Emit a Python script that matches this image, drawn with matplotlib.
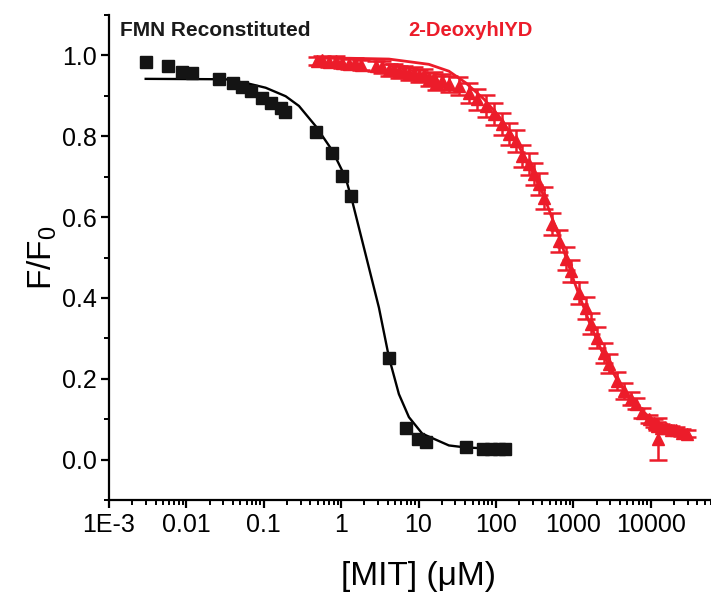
import numpy as np
import matplotlib
matplotlib.use("Agg")
import matplotlib.pyplot as plt
from matplotlib.ticker import LogLocator, NullFormatter, FixedLocator, MultipleLocator

plt.rcParams['font.family'] = ['Liberation Sans', 'DejaVu Sans']
plt.rcParams['mathtext.fontset'] = 'custom'
plt.rcParams['mathtext.rm'] = 'Liberation Sans'
plt.rcParams['mathtext.it'] = 'Liberation Sans'

# ---- FMN Reconstituted (black squares) ----
fmn_x = [0.00298, 0.00578, 0.00885, 0.0119, 0.0264, 0.0403, 0.0527, 0.0677, 0.094,
         0.123, 0.165, 0.188, 0.469, 0.76, 1.03, 1.33, 4.15, 6.88, 9.91, 12.6,
         40.6, 68, 86, 109, 131]
fmn_y = [0.984, 0.974, 0.960, 0.957, 0.942, 0.932, 0.922, 0.912, 0.895,
         0.883, 0.870, 0.861, 0.810, 0.759, 0.702, 0.652, 0.251, 0.078, 0.051, 0.044,
         0.030, 0.026, 0.026, 0.026, 0.026]
# fitted curve
fmn_fit_x = [0.00298, 0.0322, 0.0644, 0.106, 0.192, 0.285, 0.469, 0.767, 1.14, 1.39,
             2.07, 3.08, 4.15, 5.58, 7.52, 11.2, 24.7, 40.6, 139]
fmn_fit_y = [0.942, 0.941, 0.930, 0.920, 0.899, 0.875, 0.825, 0.765, 0.698, 0.640,
             0.508, 0.376, 0.253, 0.162, 0.105, 0.064, 0.035, 0.030, 0.025]

# ---- 2-DeoxyhIYD (red triangles with error bars) ----
deoxy_x = [0.486, 0.565, 0.695, 0.857, 1.02, 1.26, 1.51, 1.80, 2.82, 3.37, 4.15, 4.81,
           5.58, 6.47, 7.52, 8.72, 10.1, 11.7, 13.6, 15.8, 16.8, 20.1, 24.7, 33.3,
           44.8, 56.9, 74.3, 94.2, 120, 147, 181, 217, 267, 310, 360, 417, 530, 652,
           802, 931, 1180, 1455, 1690, 2020, 2480, 2880, 3660, 4510, 5550, 6440,
           7700, 9480, 11000, 12000, 13500, 15700, 18200, 21200, 25300, 29400, 12400]
deoxy_y = [0.986, 0.988, 0.983, 0.986, 0.981, 0.979, 0.981, 0.976, 0.974, 0.971, 0.964,
           0.966, 0.959, 0.961, 0.954, 0.956, 0.949, 0.951, 0.941, 0.944, 0.932, 0.936,
           0.929, 0.924, 0.907, 0.892, 0.875, 0.855, 0.830, 0.806, 0.788, 0.751, 0.731,
           0.707, 0.682, 0.647, 0.583, 0.541, 0.497, 0.467, 0.413, 0.376, 0.336, 0.301,
           0.264, 0.237, 0.195, 0.170, 0.151, 0.138, 0.116, 0.101, 0.091, 0.084, 0.079,
           0.077, 0.074, 0.072, 0.067, 0.064, 0.051]
deoxy_err = [0.010, 0.010, 0.012, 0.012, 0.012, 0.012, 0.012, 0.012, 0.012, 0.014, 0.014,
             0.014, 0.014, 0.014, 0.015, 0.015, 0.015, 0.015, 0.016, 0.016, 0.018, 0.018,
             0.020, 0.022, 0.025, 0.026, 0.027, 0.028, 0.028, 0.028, 0.028, 0.028, 0.028,
             0.028, 0.028, 0.028, 0.028, 0.028, 0.028, 0.027, 0.027, 0.027, 0.026, 0.026,
             0.025, 0.024, 0.022, 0.020, 0.016, 0.014, 0.012, 0.010, 0.010, 0.010, 0.008,
             0.008, 0.008, 0.008, 0.008, 0.008, 0.052]
deoxy_fit_x = [0.486, 1.26, 4.15, 13.6, 24.7, 40.9, 70.0, 109, 171, 267, 417, 652,
               1020, 1590, 2480, 3880, 6070, 9480, 14800, 29400]
deoxy_fit_y = [0.993, 0.993, 0.991, 0.978, 0.961, 0.932, 0.892, 0.850, 0.796, 0.731,
               0.652, 0.553, 0.442, 0.343, 0.257, 0.190, 0.141, 0.106, 0.084, 0.069]

x_ticks = [1e-3, 1e-2, 1e-1, 1, 10, 100, 1000, 10000]
x_ticklabels = ['1E-3', '0.01', '0.1', '1', '10', '100', '1000', '10000']
y_ticks = [0.0, 0.2, 0.4, 0.6, 0.8, 1.0]
y_ticklabels = ['0.0', '0.2', '0.4', '0.6', '0.8', '1.0']

RED = '#EC1C2A'

fig = plt.figure(figsize=(7.11, 5.96), dpi=100)
ax = fig.add_axes([109/711, 96/596, 619/711, 485/596])

ax.plot(fmn_fit_x, fmn_fit_y, color='black', lw=1.7, zorder=2)
ax.plot(fmn_x, fmn_y, ls='none', marker='s', ms=8.5, color='#141414', zorder=3)

ax.plot(deoxy_fit_x, deoxy_fit_y, color=RED, lw=2.0, zorder=2)
ax.errorbar(deoxy_x, deoxy_y, yerr=deoxy_err, ls='none', marker='^', ms=9,
            color=RED, ecolor=RED, elinewidth=1.8, capsize=6.5, capthick=1.8, zorder=3)

ax.set_xscale('log')
ax.set_xlim(1e-3, 1e5)
ax.set_ylim(-0.1, 1.1)

ax.xaxis.set_major_locator(FixedLocator(x_ticks))
ax.set_xticklabels(x_ticklabels)
ax.xaxis.set_minor_locator(LogLocator(base=10, subs=np.arange(2, 10), numticks=100))
ax.xaxis.set_minor_formatter(NullFormatter())
ax.set_yticks(y_ticks)
ax.set_yticklabels(y_ticklabels)
ax.yaxis.set_minor_locator(MultipleLocator(0.1))

for s in ['top', 'right']:
    ax.spines[s].set_visible(False)
for s in ['left', 'bottom']:
    ax.spines[s].set_linewidth(1.6)

ax.tick_params(axis='both', which='major', direction='out', length=6, width=1.6,
               labelsize=18, pad=3)
ax.tick_params(axis='both', which='minor', direction='out', length=3.5, width=1.4)

ax.set_xlabel('[MIT] (μM)', fontsize=24, labelpad=18)
ax.set_ylabel('F/F$_0$', fontsize=24, labelpad=2)

fig.text(120/711, 1 - 31/596, 'FMN Reconstituted', fontsize=15, fontweight='bold',
         color='#1a1a1a', ha='left', va='center')
fig.text(408/711, 1 - 31/596, '2-DeoxyhIYD', fontsize=14.5, fontweight='bold',
         color=RED, ha='left', va='center')

fig.savefig('out.png', dpi=100)
